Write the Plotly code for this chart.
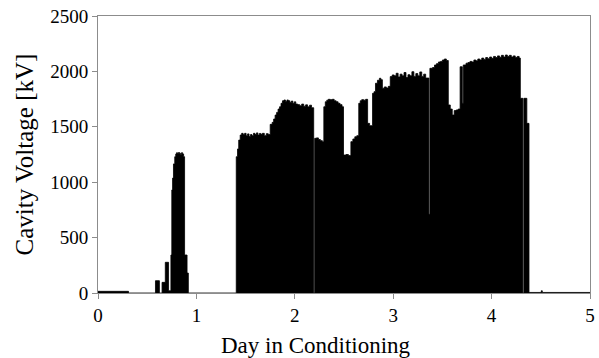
import plotly.graph_objects as go

# Day in conditioning (step start) and cavity voltage [kV]
day = [
    0.00, 0.31, 0.584, 0.624, 0.651, 0.684, 0.717, 0.741, 0.750, 0.758, 0.767, 0.780,
    0.790, 0.798, 0.808, 0.818, 0.828, 0.838, 0.848, 0.860, 0.870, 0.880, 0.905, 0.918,
    1.405, 1.418, 1.430, 1.445, 1.460, 1.475, 1.490, 1.505, 1.520, 1.535, 1.550, 1.565,
    1.580, 1.595, 1.610, 1.625, 1.640, 1.655, 1.670, 1.690, 1.710, 1.730, 1.750, 1.770,
    1.785, 1.800, 1.815, 1.830, 1.845, 1.860, 1.875, 1.890, 1.905, 1.920, 1.935, 1.950,
    1.965, 1.980, 1.995, 2.010, 2.030, 2.050, 2.070, 2.090, 2.110, 2.130, 2.150, 2.170,
    2.192, 2.202, 2.220, 2.240, 2.260, 2.280, 2.295, 2.310, 2.325, 2.340, 2.360, 2.380,
    2.400, 2.420, 2.440, 2.460, 2.480, 2.495, 2.520, 2.545, 2.570, 2.590, 2.610, 2.630,
    2.650, 2.665, 2.680, 2.700, 2.720, 2.740, 2.760, 2.790, 2.805, 2.820, 2.840, 2.860,
    2.875, 2.890, 2.910, 2.930, 2.950, 2.970, 2.990, 3.010, 3.030, 3.050, 3.070, 3.090,
    3.110, 3.130, 3.150, 3.170, 3.190, 3.210, 3.230, 3.250, 3.270, 3.290, 3.310, 3.330,
    3.363, 3.373, 3.400, 3.420, 3.440, 3.460, 3.480, 3.500, 3.520, 3.540, 3.560, 3.580,
    3.600, 3.620, 3.640, 3.660, 3.680, 3.702, 3.712, 3.740, 3.760, 3.780, 3.800, 3.820,
    3.840, 3.860, 3.880, 3.900, 3.920, 3.940, 3.960, 3.980, 4.000, 4.020, 4.040, 4.060,
    4.080, 4.100, 4.120, 4.140, 4.160, 4.180, 4.200, 4.220, 4.240, 4.260, 4.280, 4.292,
    4.318, 4.328, 4.358, 4.380, 4.505, 4.515, 5.000,
]
voltage_kV = [
    15, 0, 111, 0, 96, 277, 20, 343, 930, 1037, 1165, 1230,
    1255, 1266, 1258, 1268, 1262, 1250, 1266, 1255, 1230, 343, 180, 0,
    1230, 1300, 1380, 1426, 1441, 1430, 1441, 1420, 1436, 1412, 1430, 1420,
    1441, 1430, 1445, 1425, 1440, 1432, 1441, 1420, 1438, 1430, 1522, 1540,
    1570, 1606, 1630, 1660, 1681, 1712, 1735, 1742, 1728, 1742, 1735, 1720,
    1732, 1712, 1725, 1705, 1700, 1690, 1705, 1686, 1698, 1680, 1695, 1672,
    0, 1396, 1400, 1385, 1375, 1366, 1681, 1726, 1740, 1748, 1745, 1748,
    1735, 1726, 1712, 1700, 1681, 1245, 1250, 1240, 1366, 1390, 1410, 1420,
    1712, 1735, 1745, 1740, 1748, 1531, 1510, 1802, 1817, 1893, 1920, 1938,
    1925, 1848, 1860, 1850, 1865, 1953, 1968, 1960, 1983, 1950, 1975, 1960,
    1990, 1945, 1970, 1960, 1997, 1955, 1980, 1960, 1995, 1955, 1975, 1940,
    710, 2028, 2035, 2058, 2070, 2085, 2090, 2103, 2112, 2098, 1697, 1660,
    1606, 1646, 1652, 1660, 2042, 1712, 2058, 2074, 2080, 2090, 2085, 2103,
    2095, 2112, 2103, 2120, 2108, 2125, 2115, 2130, 2118, 2135, 2125, 2140,
    2128, 2145, 2130, 2148, 2135, 2145, 2130, 2140, 2125, 2135, 2120, 1757,
    0, 1757, 1531, 5, 20, 5, 5,
]

x_ticks = [0, 1, 2, 3, 4, 5]
y_ticks = [0, 500, 1000, 1500, 2000, 2500]
x_title = "Day in Conditioning"
y_title = "Cavity Voltage [kV]"

fig = go.Figure()
fig.add_trace(go.Scatter(
    x=day, y=voltage_kV, mode="lines",
    line=dict(shape="hv", color="black", width=0.8),
    fill="tozeroy", fillcolor="black",
    showlegend=False, hoverinfo="skip",
))

axis_common = dict(
    showgrid=False, zeroline=False, showline=True, mirror=True,
    linecolor="#8c8c8c", linewidth=1,
    ticks="outside", ticklen=5, tickcolor="#8c8c8c", tickwidth=1,
    tickfont=dict(family="Liberation Serif", size=19, color="black"),
    ticklabeloverflow="allow",
)

fig.update_layout(
    width=599, height=358,
    margin=dict(l=98, r=4, t=16, b=65),
    paper_bgcolor="white", plot_bgcolor="white",
    font=dict(family="Liberation Serif", color="black"),
    xaxis=dict(range=[0, 5], tickvals=x_ticks, ticktext=[str(v) for v in x_ticks],
               **axis_common),
    yaxis=dict(range=[0, 2500], tickvals=y_ticks, ticktext=[str(v) for v in y_ticks],
               title=dict(text=y_title, font=dict(size=25), standoff=9),
               **axis_common),
)

fig.add_annotation(
    text=x_title, xref="paper", yref="paper",
    x=0.4435, y=-0.188, xanchor="center", yanchor="middle",
    showarrow=False, font=dict(family="Liberation Serif", size=23, color="black"),
)

fig.write_html("out.html")
